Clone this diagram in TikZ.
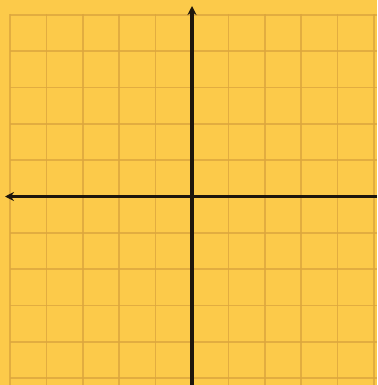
\documentclass[tikz,border=0pt]{standalone}
\usetikzlibrary{arrows.meta}
\definecolor{paper}{HTML}{FCCA4A}
\definecolor{gridc}{HTML}{DCA63E}
\definecolor{axisc}{HTML}{1E160C}
\tikzset{
  gridline/.style={draw=gridc, line width=1.6pt, opacity=0.8},
  axisline/.style={draw=axisc, line width=3.8pt, -{Stealth[length=9pt,width=9pt]}}
}
\begin{document}
\begin{tikzpicture}[x=1pt,y=-1pt]
\fill[paper] (0,0) rectangle (377,385);
\useasboundingbox (0,0) rectangle (377,385);
% vertical grid lines
\foreach \i in {0,1,2,3,4,6,7,8,9,10}{
  \draw[gridline] ({10+36.4*\i},14) -- ({10+36.4*\i},385);
}
% horizontal grid lines
\foreach \j in {0,1,2,3,4,6,7,8,9,10}{
  \draw[gridline] (10,{15+36.3*\j}) -- (377,{15+36.3*\j});
}
\coordinate (xr) at (377,196.5);
\coordinate (xl) at (5,196.5);
\coordinate (yb) at (192,385);
\coordinate (yt) at (192,6);
\draw[axisline] (xr) -- (xl);
\draw[axisline] (yb) -- (yt);
\end{tikzpicture}
\end{document}
